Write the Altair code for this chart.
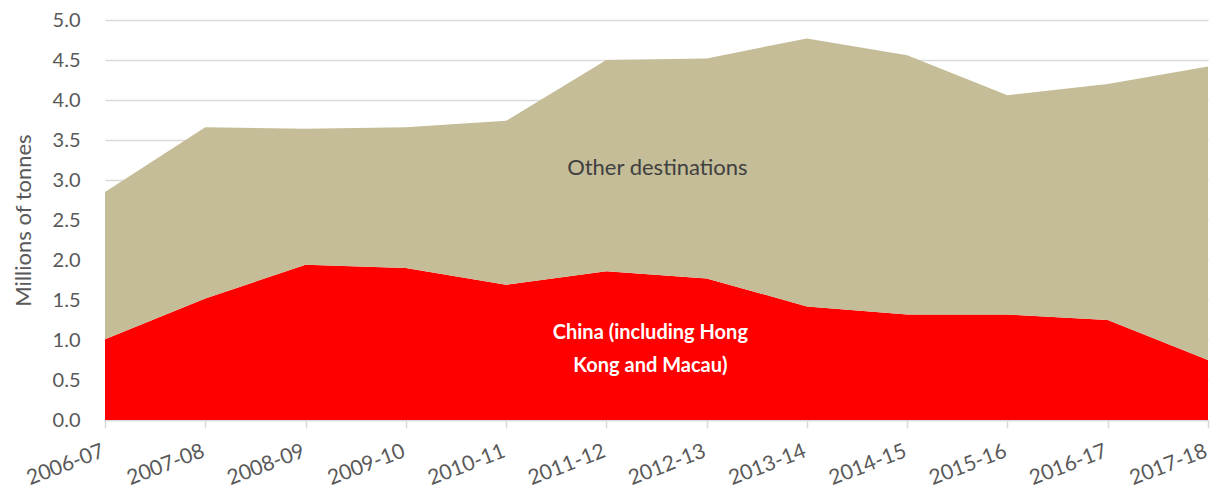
import altair as alt
import pandas as pd

years = ["2006-07", "2007-08", "2008-09", "2009-10", "2010-11", "2011-12",
         "2012-13", "2013-14", "2014-15", "2015-16", "2016-17", "2017-18"]
china = [1.01, 1.52, 1.94, 1.90, 1.69, 1.86, 1.77, 1.42, 1.32, 1.32, 1.25, 0.75]
total = [2.85, 3.66, 3.64, 3.66, 3.74, 4.50, 4.52, 4.77, 4.56, 4.06, 4.20, 4.42]
other = [round(t - c, 2) for t, c in zip(total, china)]
series_names = ["China (including Hong Kong and Macau)", "Other destinations"]
y_ticks = [0, 0.5, 1, 1.5, 2, 2.5, 3, 3.5, 4, 4.5, 5]

rows = []
for y, c, o in zip(years, china, other):
    rows.append({"year": y, "series": series_names[0], "value": c, "ord": 0})
    rows.append({"year": y, "series": series_names[1], "value": o, "ord": 1})
df = pd.DataFrame(rows)

FONT = "Lato"
GRAY = "#595959"

x_axis = alt.Axis(title=None, labelAngle=-21, labelAlign="right", labelBaseline="top",
                  labelFontSize=21, labelColor=GRAY, labelFont=FONT,
                  labelPadding=12, labelOffset=-6, labelOverlap=False,
                  labelBound=False, tickSize=8, tickColor="#D9D9D9",
                  domainColor="#D9D9D9", domainWidth=1.5, tickWidth=1.5, grid=False)
y_axis = alt.Axis(title="Millions of tonnes", titleFontSize=22, titleFont=FONT,
                  titleColor=GRAY, titleFontWeight="normal", titlePadding=17,
                  values=y_ticks, tickCount=11,
                  format=".1f", labelFontSize=20, labelColor=GRAY, labelFont=FONT,
                  labelPadding=25, labelOverlap=False, ticks=False, domain=False,
                  gridColor="#D9D9D9", gridWidth=1.5)
x_scale = alt.Scale(type="point", padding=0)
y_scale = alt.Scale(domain=[0, 5], nice=False)

area = alt.Chart(df).mark_area(opacity=1, interpolate="linear").encode(
    x=alt.X("year:N", sort=years, scale=x_scale, axis=x_axis),
    y=alt.Y("value:Q", stack="zero", scale=y_scale, axis=y_axis),
    color=alt.Color("series:N", sort=series_names,
                    scale=alt.Scale(domain=series_names, range=["#FF0000", "#C4BD97"]),
                    legend=None),
    order=alt.Order("ord:Q"),
)

labels_df = pd.DataFrame([
    {"year": "2011-12", "value": 3.15, "text": "Other destinations", "kind": "other"},
    {"year": "2011-12", "value": 1.09, "text": "China (including Hong", "kind": "china"},
    {"year": "2011-12", "value": 0.68, "text": "Kong and Macau)", "kind": "china"},
])

other_txt = alt.Chart(labels_df).transform_filter(alt.datum.kind == "other").mark_text(
    font=FONT, fontSize=22, color="#404040", dx=51, align="center", baseline="middle"
).encode(x=alt.X("year:N", sort=years, scale=x_scale, axis=x_axis),
         y=alt.Y("value:Q", scale=y_scale, axis=y_axis), text="text:N")

china_txt = alt.Chart(labels_df).transform_filter(alt.datum.kind == "china").mark_text(
    font=FONT, fontSize=20, color="white", fontWeight="bold", dx=44, align="center",
    baseline="middle"
).encode(x=alt.X("year:N", sort=years, scale=x_scale, axis=x_axis),
         y=alt.Y("value:Q", scale=y_scale, axis=y_axis), text="text:N")

chart = alt.layer(area, other_txt, china_txt).properties(
    width=1103, height=400,
    autosize=alt.AutoSizeParams(type="none"),
    padding={"left": 97, "top": 12, "right": 2, "bottom": 69},
).configure_view(stroke=None)

chart.save("out.html", embed_options={"renderer": "svg", "actions": False})
